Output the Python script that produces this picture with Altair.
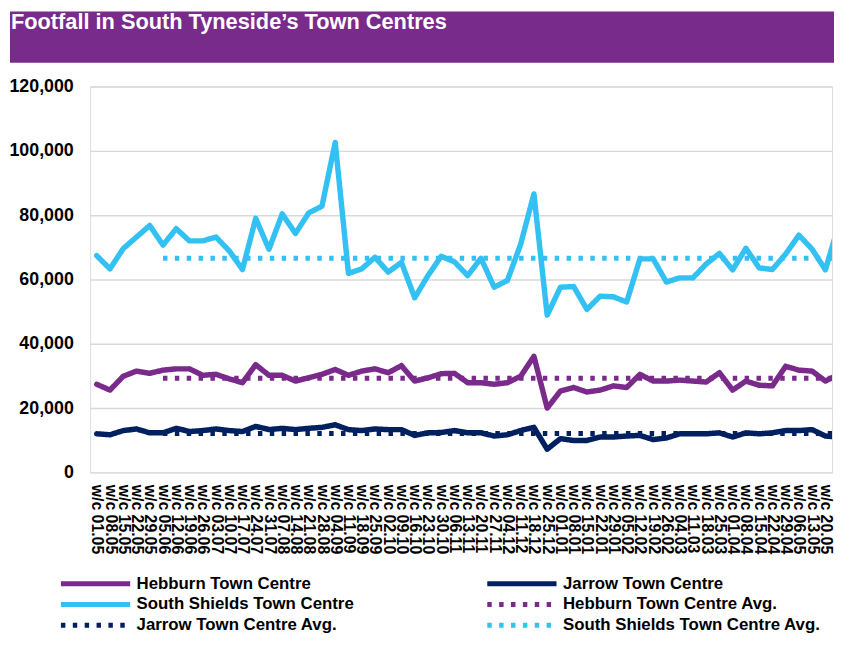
import json
import altair as alt
import pandas as pd

labels = [
    "w/c 01.05", "w/c 08.05", "w/c 15.05", "w/c 22.05", "w/c 29.05",
    "w/c 05.06", "w/c 12.06", "w/c 19.06", "w/c 26.06",
    "w/c 03.07", "w/c 10.07", "w/c 17.07", "w/c 24.07", "w/c 31.07",
    "w/c 07.08", "w/c 14.08", "w/c 21.08", "w/c 28.08",
    "w/c 04.09", "w/c 11.09", "w/c 18.09", "w/c 25.09",
    "w/c 02.10", "w/c 09.10", "w/c 16.10", "w/c 23.10", "w/c 30.10",
    "w/c 06.11", "w/c 13.11", "w/c 20.11", "w/c 27.11",
    "w/c 04.12", "w/c 11.12", "w/c 18.12", "w/c 25.12",
    "w/c 01.01", "w/c 08.01", "w/c 15.01", "w/c 22.01", "w/c 29.01",
    "w/c 05.02", "w/c 12.02", "w/c 19.02", "w/c 26.02",
    "w/c 04.03", "w/c 11.03", "w/c 18.03", "w/c 25.03",
    "w/c 01.04", "w/c 08.04", "w/c 15.04", "w/c 22.04", "w/c 29.04",
    "w/c 06.05", "w/c 13.05", "w/c 20.05", "w/c 27.05",
]
visible_weeks = 56  # the picture is cut after w/c 20.05

hebburn = [27400, 25600, 29900, 31500, 30800, 31800, 32200, 32200, 30200, 30500,
           29100, 27900, 33500, 30200, 30200, 28400, 29400, 30500, 32000, 30200,
           31500, 32200, 31000, 33200, 28400, 29400, 30700, 30800, 27900, 27900,
           27400, 27900, 29900, 36100, 20000, 25300, 26400, 25000, 25600, 26900,
           26400, 30500, 28400, 28400, 28700, 28400, 28100, 31000, 25600, 28400,
           27100, 26900, 33000, 31800, 31500, 28400, 30500]
jarrow = [12000, 11700, 13000, 13500, 12300, 12300, 13700, 12700, 13000, 13500,
          13000, 12700, 14300, 13300, 13700, 13300, 13700, 14000, 14800, 13300,
          13000, 13500, 13300, 13300, 11500, 12300, 12400, 13000, 12300, 12300,
          11300, 11700, 13000, 14000, 7200, 10500, 9900, 9900, 11000, 11000,
          11300, 11500, 10200, 10700, 12000, 12000, 12000, 12300, 11000, 12300,
          12000, 12300, 13000, 13000, 13300, 11300, 11000]
south_shields = [67400, 63300, 69600, 73200, 76800, 70700, 75800, 72000, 72000, 73200,
                 68900, 63100, 79000, 69400, 80400, 74300, 80700, 82800, 102600, 61900,
                 63300, 66900, 62300, 65300, 54300, 61200, 67200, 65500, 61200, 66600,
                 57600, 59700, 71000, 86600, 48900, 57600, 57800, 50700, 54800, 54600,
                 53000, 66400, 66400, 59200, 60500, 60500, 64800, 68100, 63000, 69700,
                 63600, 63100, 67900, 73800, 69400, 63000, 77000]

hebburn_avg = 29300
jarrow_avg = 12100
south_shields_avg = 66600
avg_start = "w/c 05.06"

title_text = "Footfall in South Tyneside\u2019s Town Centres"

main_names = ["Hebburn Town Centre", "Jarrow Town Centre", "South Shields Town Centre"]
avg_names = ["Hebburn Town Centre Avg.", "Jarrow Town Centre Avg.",
             "South Shields Town Centre Avg."]

# legend is filled column by column: left column first, then right column
series_names = [
    "Hebburn Town Centre", "South Shields Town Centre", "Jarrow Town Centre Avg.",
    "Jarrow Town Centre", "Hebburn Town Centre Avg.", "South Shields Town Centre Avg.",
]
series_colors = ["#7A2A8B", "#33C0F2", "#002060", "#002060", "#7A2A8B", "#33C0F2"]
SOLID, DOTS = [1, 0], [4.5, 7.5]
series_dashes = [SOLID, SOLID, DOTS, SOLID, DOTS, DOTS]

rows = []
for name, vals in zip(main_names, [hebburn, jarrow, south_shields]):
    for i, v in enumerate(vals):
        rows.append({"idx": i, "value": v, "series": name})
main_df = pd.DataFrame(rows)

rows = []
start_i = labels.index(avg_start)
end_i = len(labels) - 1
for name, v in zip(avg_names, [hebburn_avg, jarrow_avg, south_shields_avg]):
    rows.append({"idx": start_i, "value": v, "series": name})
    rows.append({"idx": end_i, "value": v, "series": name})
avg_df = pd.DataFrame(rows)

FONT = "Liberation Sans"
W, H = 750, 390

legend = alt.Legend(
    title=None, orient="none", legendX=-32, legendY=492, columns=2,
    columnPadding=132, rowPadding=0, clipHeight=21,
    symbolType="stroke", symbolSize=4900, symbolStrokeWidth=5,
    labelFont=FONT, labelFontSize=17, labelFontWeight="bold",
    labelColor="#000000", labelOffset=4, labelLimit=400,
)

label_expr = json.dumps(labels) + "[datum.value]"

x_enc = alt.X("idx:Q",
              scale=alt.Scale(domain=[-0.5, visible_weeks - 0.5], nice=False, zero=False),
              axis=alt.Axis(values=list(range(visible_weeks)), labelExpr=label_expr,
                            title=None, labelAngle=90, labelFont=FONT, labelFontSize=16,
                            labelFontWeight="bold", labelColor="#000000",
                            labelOverlap=False, labelPadding=12, grid=False,
                            domain=False, ticks=False, labelBound=False, labelFlush=False))
y_enc = alt.Y("value:Q",
              scale=alt.Scale(domain=[0, 120000], nice=False),
              axis=alt.Axis(values=[0, 20000, 40000, 60000, 80000, 100000, 120000],
                            format=",.0f", title=None, labelFont=FONT, labelFontSize=18,
                            labelFontWeight="bold", labelColor="#000000",
                            labelPadding=17, grid=True, gridColor="#D9D9D9",
                            gridWidth=1.5, domain=False, ticks=False))
color_enc = alt.Color("series:N",
                      scale=alt.Scale(domain=series_names, range=series_colors),
                      legend=legend)
dash_enc = alt.StrokeDash("series:N",
                          scale=alt.Scale(domain=series_names, range=series_dashes),
                          legend=legend)

main_lines = alt.Chart(main_df).mark_line(
    strokeWidth=5.5, strokeCap="round", strokeJoin="round", clip=True
).encode(x=x_enc, y=y_enc, color=color_enc, strokeDash=dash_enc)

avg_lines = alt.Chart(avg_df).mark_line(
    strokeWidth=5, strokeCap="butt", clip=True
).encode(x=x_enc, y=y_enc, color=color_enc, strokeDash=dash_enc)

banner = alt.Chart(pd.DataFrame({"k": [0]})).mark_rect(color="#782B8A").encode(
    x=alt.value(-81), x2=alt.value(752), y=alt.value(-76), y2=alt.value(-24)
)

title = alt.Chart(pd.DataFrame({"t": [title_text]})).mark_text(
    align="left", baseline="top", font=FONT, fontSize=22,
    fontWeight="bold", color="#FFFFFF"
).encode(text="t:N", x=alt.value(-80), y=alt.value(-75))

chart = alt.layer(banner, title, main_lines, avg_lines).properties(
    width=W, height=H,
    padding={"left": 0, "top": 0, "right": 0, "bottom": 0},
).configure_view(stroke=None).configure(background="#FFFFFF")

chart.save("out.html", embed_options={"renderer": "svg", "actions": False})
